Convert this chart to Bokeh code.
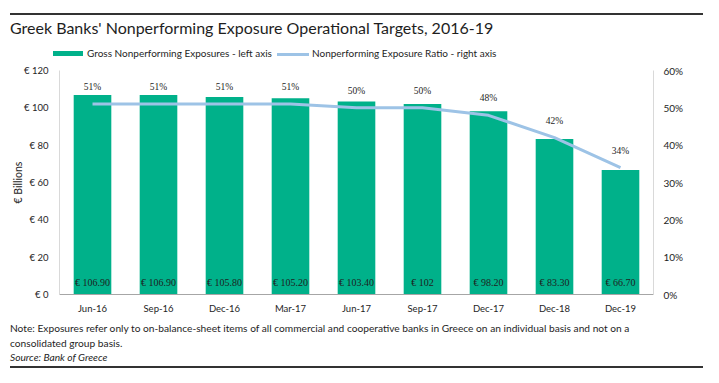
from bokeh.plotting import figure
from bokeh.layouts import column
from bokeh.models import (ColumnDataSource, Range1d, LinearAxis, PrintfTickFormatter,
                          LabelSet, FixedTicker, Div)
from bokeh.embed import file_html
from bokeh.resources import INLINE

categories = ["Jun-16", "Sep-16", "Dec-16", "Mar-17", "Jun-17", "Sep-17", "Dec-17", "Dec-18", "Dec-19"]
npe_values = [106.9, 106.9, 105.8, 105.2, 103.4, 102.0, 98.2, 83.3, 66.7]
npe_labels = ["€ 106.90", "€ 106.90", "€ 105.80", "€ 105.20", "€ 103.40", "€ 102", "€ 98.20", "€ 83.30", "€ 66.70"]
ratio_values = [51, 51, 51, 51, 50, 50, 48, 42, 34]
ratio_labels = ["51%", "51%", "51%", "51%", "50%", "50%", "48%", "42%", "34%"]
left_ticks = [0, 20, 40, 60, 80, 100, 120]
right_ticks = [0, 10, 20, 30, 40, 50, 60]
title_text = "Greek Banks' Nonperforming Exposure Operational Targets, 2016-19"
legend_labels = ["Gross Nonperforming Exposures - left axis", "Nonperforming Exposure Ratio - right axis"]
note_lines = ["Note: Exposures refer only to on-balance-sheet items of all commercial and cooperative banks in Greece on an individual basis and not on a",
              "consolidated group basis."]
source_text = "Source: Bank of Greece"

FONT = "Lato"
GREEN = "#00B18A"
BLUE = "#9DC3E6"
TXT = "#1E1E1E"
W = 719


def box(left, top, style, content=""):
    return (f'<div style="position:absolute;left:{left}px;top:{top}px;margin:0;padding:0;'
            f'white-space:nowrap;{style}">{content}</div>')


# ---- header (rule + title + legend), written without whitespace between tags
hdr_parts = [
    box(10, 13, "width:693px;height:2px;background:#333333;"),
    box(10, 18, "font-size:16px;line-height:20px;", title_text),
    box(53, 51, f"width:30px;height:5px;background:{GREEN};"),
    box(87, 47, "font-size:10px;line-height:12px;", legend_labels[0]),
    box(277, 53, f"width:32px;height:3px;background:{BLUE};"),
    box(312, 47, "font-size:10px;line-height:12px;", legend_labels[1]),
]
hdr_html = (f'<div style="position:relative;display:block;margin:0;padding:0;width:{W}px;height:64px;'
            f'font-family:{FONT};color:{TXT};">' + "".join(hdr_parts) + '</div>')
hdr = Div(text=hdr_html, width=W, height=64, margin=0)

# ---- main chart
src = ColumnDataSource(dict(cat=categories, npe=npe_values, npel=npe_labels,
                            ratio=ratio_values, ratiol=ratio_labels,
                            base=[0] * len(categories)))

p = figure(width=W, height=252, x_range=categories, y_range=Range1d(0, 120),
           output_backend="svg", toolbar_location=None,
           min_border_left=59, min_border_right=66, min_border_top=6, min_border_bottom=22)
p.extra_y_ranges = {"pct": Range1d(0, 60)}
p.x_range.range_padding = 0
p.outline_line_color = None
p.xgrid.visible = False
p.ygrid.visible = False

p.vbar(x="cat", top="npe", width=0.57, source=src, color=GREEN, line_color=None)
p.line(x="cat", y="ratio", source=src, y_range_name="pct", line_color=BLUE, line_width=3)

p.add_layout(LabelSet(x="cat", y="base", text="npel", source=src, text_align="center",
                      text_baseline="middle", y_offset=12, text_font_size="10px",
                      text_color=TXT, text_font=FONT))
p.add_layout(LabelSet(x="cat", y="ratio", text="ratiol", source=src, y_range_name="pct",
                      text_align="center", text_baseline="middle", y_offset=17,
                      text_font_size="9.5px", text_color=TXT, text_font=FONT))


def plain(ax, size, standoff, line_color):
    ax.major_tick_line_color = None
    ax.minor_tick_line_color = None
    ax.major_tick_out = 0
    ax.major_tick_in = 0
    ax.minor_tick_out = 0
    ax.minor_tick_in = 0
    ax.axis_line_color = line_color
    ax.major_label_text_font = FONT
    ax.major_label_text_font_size = size
    ax.major_label_text_color = TXT
    ax.major_label_standoff = standoff


la = p.yaxis[0]
la.ticker = FixedTicker(ticks=left_ticks)
la.formatter = PrintfTickFormatter(format="€ %d")
la.axis_label = "€ Billions"
la.axis_label_text_font = FONT
la.axis_label_text_font_style = "normal"
la.axis_label_text_font_size = "10.5px"
la.axis_label_text_color = TXT
la.axis_label_standoff = -3
plain(la, "9.5px", 11, "#D9D9D9")

ra = LinearAxis(y_range_name="pct", ticker=FixedTicker(ticks=right_ticks),
                formatter=PrintfTickFormatter(format="%d%%"))
plain(ra, "10px", 10, "#D9D9D9")
p.add_layout(ra, "right")

xa = p.xaxis[0]
plain(xa, "9.5px", 8, "#A6A6A6")

# ---- footer (note, source, rule)
ftr_parts = [
    box(10, 6, "", note_lines[0]),
    box(10, 21, "", note_lines[1]),
    box(10, 35, "font-style:italic;", source_text),
    box(10, 50, "width:693px;height:2px;background:#333333;"),
]
ftr_html = (f'<div style="position:relative;display:block;margin:0;padding:0;width:{W}px;height:67px;'
            f'font-family:{FONT};color:{TXT};font-size:10.2px;line-height:13px;">'
            + "".join(ftr_parts) + '</div>')
ftr = Div(text=ftr_html, width=W, height=67, margin=0)

layout = column(hdr, p, ftr, spacing=0)
open("out.html", "w").write(file_html(layout, INLINE))
